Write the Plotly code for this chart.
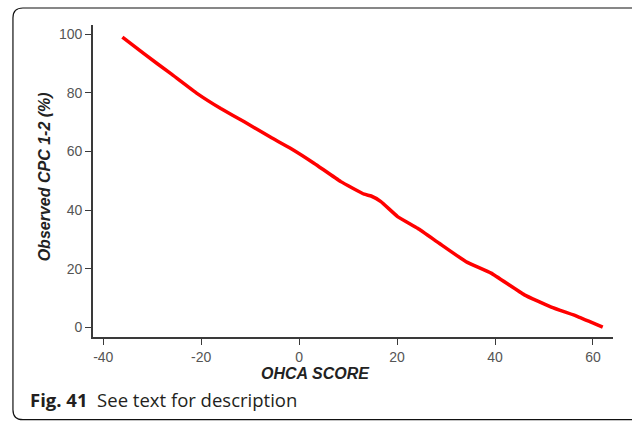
import plotly.graph_objects as go

# Data
ohca_score = [-36.1, -31.7, -26.2, -20.8, -16.0, -11.2, -5.8, -1.7, 3.1, 8.5, 13.3, 14.7, 16.7,
              20.1, 24.2, 28.6, 34.1, 39.2, 46.0, 51.5, 56.9, 62.0]
observed_cpc = [99.0, 93.3, 86.5, 79.7, 74.6, 70.1, 64.8, 61.0, 55.9, 49.7, 45.4, 44.8, 42.9,
                37.8, 33.8, 28.7, 22.4, 18.5, 11.1, 6.9, 3.7, 0.1]
x_ticks = [-40, -20, 0, 20, 40, 60]
x_tick_labels = ["-40", "-20", "0", "20", "40", "60"]
y_ticks = [0, 20, 40, 60, 80, 100]
y_tick_labels = ["0", "20", "40", "60", "80", "100"]

W, H = 632, 421
ML, MR, MT, MB = 93, 19.3, 25, 83.7
PW, PH = W - ML - MR, H - MT - MB

def px(x):
    return (x - ML) / PW

def py(y):
    return (H - MB - y) / PH

fig = go.Figure()
fig.add_trace(go.Scatter(x=ohca_score, y=observed_cpc, mode="lines",
                         line=dict(color="#ff0000", width=3.5, shape="spline", smoothing=0.3),
                         showlegend=False, hoverinfo="skip"))

# Card frame with rounded left corners
r = 10
path = (f"M {px(645)},{py(8)} L {px(13 + r)},{py(8)} Q {px(13)},{py(8)} {px(13)},{py(8 + r)} "
        f"L {px(13)},{py(420 - r)} Q {px(13)},{py(420)} {px(13 + r)},{py(420)} L {px(645)},{py(420)}")

axis_common = dict(showgrid=False, zeroline=False, showline=True, linecolor="#3a3a3a",
                   linewidth=1.6, ticks="outside", ticklen=6, tickwidth=1.2, tickcolor="#3a3a3a",
                   tickfont=dict(size=14, color="#555555"))

fig.update_layout(
    width=W, height=H,
    margin=dict(l=ML, r=MR, t=MT, b=MB),
    paper_bgcolor="white", plot_bgcolor="white",
    font=dict(family="Liberation Sans, Arial, sans-serif", color="#555555", size=14),
    xaxis=dict(range=[-42.1, 64.1], tickvals=x_ticks, ticktext=x_tick_labels, **axis_common),
    yaxis=dict(range=[-3.27, 103.1], tickvals=y_ticks, ticktext=y_tick_labels, **axis_common),
    shapes=[dict(type="path", path=path, xref="paper", yref="paper",
                 line=dict(color="#111111", width=1.2), layer="below")],
    annotations=[
        dict(text="<b><i>OHCA SCORE</i></b>", xref="paper", yref="paper",
             x=px(315), y=py(374), xanchor="center", yanchor="middle", showarrow=False,
             font=dict(family="Liberation Sans, Arial, sans-serif", size=16, color="#222222")),
        dict(text="<b><i>Observed CPC 1-2 (%)</i></b>", xref="paper", yref="paper",
             x=px(44.5), y=py(177), xanchor="center", yanchor="middle", showarrow=False,
             textangle=-90,
             font=dict(family="Liberation Sans, Arial, sans-serif", size=16, color="#222222")),
        dict(text="<b>Fig. 41</b>  See text for description", xref="paper", yref="paper",
             x=px(163.5), y=py(400), xanchor="center", yanchor="middle", showarrow=False,
             font=dict(family="Open Sans, Noto Sans, sans-serif", size=18.5, color="#231f20")),
    ],
)

fig.write_html("out.html", config={"displayModeBar": False},
               post_script="document.body.style.margin='0';")
